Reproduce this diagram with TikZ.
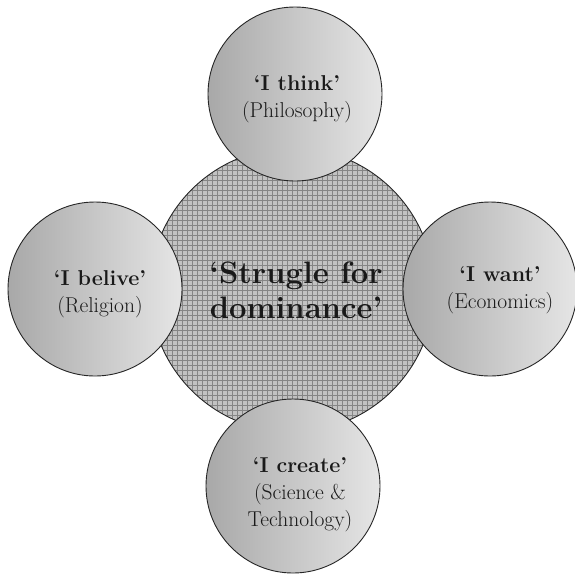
\documentclass[tikz,border=0pt]{standalone}
\begin{document}
\begin{tikzpicture}[x=1pt,y=-1pt,
  sat/.style={circle,draw=black!85,line width=0.9pt,left color=black!34,right color=black!10,
    minimum size=174pt,inner sep=0pt},
  core/.style={circle,draw=black!85,line width=0.9pt,minimum size=284pt,inner sep=0pt},
  gridline/.style={black!48,line width=0.35pt},
  lbl/.style={align=center,font=\fontsize{21.5}{27}\selectfont,text=black!90},
  biglbl/.style={align=center,font=\fontsize{31}{35}\selectfont\bfseries,text=black!90}]
\useasboundingbox (0,0) rectangle (575,574);
% central circle with grid
\begin{scope}
  \clip (292,290) circle (142);
  \fill[black!24] (150,148) rectangle (434,432);
  \foreach \k in {0,...,58} {
    \draw[gridline] (147+5*\k,146) -- (147+5*\k,434);
    \draw[gridline] (148,145+5*\k) -- (436,145+5*\k);
  }
\end{scope}
\node[core] (core) at (292,290) {};
\node[biglbl] (coretext) at (296,290) {`Strugle for\\dominance'};
% satellites
\node[sat] (think) at (295,94) {};
\node[sat] (belive) at (95,289) {};
\node[sat] (want) at (490,289) {};
\node[sat] (create) at (293,486) {};
\node[lbl] (thinktext) at (297,99) {\textbf{`I think'}\\(Philosophy)};
\node[lbl] (belivetext) at (100,294) {\textbf{`I belive'}\\(Religion)};
\node[lbl] (wanttext) at (500,290) {\textbf{`I want'}\\(Economics)};
\node[lbl] (createtext) at (300,495) {\textbf{`I create'}\\(Science \&\\Technology)};
\end{tikzpicture}
\end{document}
